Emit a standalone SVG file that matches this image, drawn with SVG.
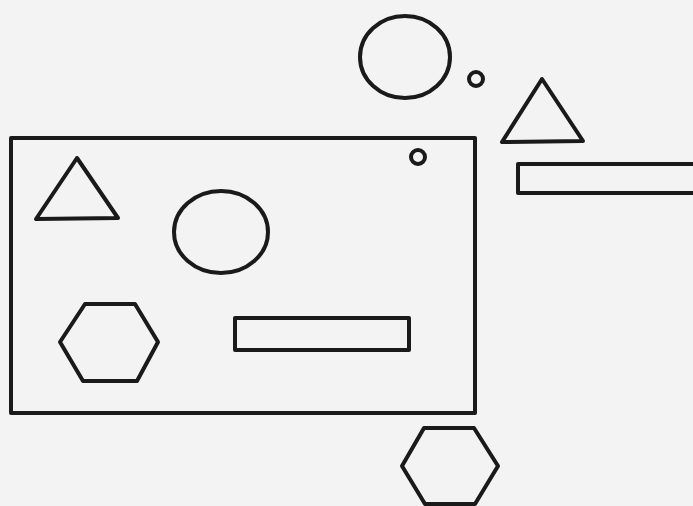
<svg xmlns="http://www.w3.org/2000/svg" width="693" height="506" viewBox="0 0 693 506">
<style>
.s{fill:none;stroke:#1a1a1a;stroke-width:4;stroke-linejoin:round}
</style>
<rect x="0" y="0" width="693" height="506" fill="#f3f3f3"/>
<g id="frame"><rect class="s" x="11" y="138" width="464" height="275"/></g>
<g id="tri-in"><polygon class="s" points="77,158 36,219 118,218"/></g>
<g id="circle-in"><ellipse class="s" cx="221" cy="232" rx="47" ry="41"/></g>
<g id="hex-in"><polygon class="s" points="85,304 135,304 158,342 137,381 83,381 60,342"/></g>
<g id="rect-in"><rect class="s" x="235" y="318" width="174" height="32"/></g>
<g id="dot-in"><circle class="s" cx="418" cy="157" r="7"/></g>
<g id="circle-out"><ellipse class="s" cx="405" cy="57" rx="45" ry="41"/></g>
<g id="dot-out"><circle class="s" cx="476" cy="79" r="7"/></g>
<g id="tri-out"><polygon class="s" points="542,79 502,142 583,141"/></g>
<g id="rect-out"><rect class="s" x="518" y="164" width="185" height="29"/></g>
<g id="hex-out"><polygon class="s" points="424,428 474,428 498,466 475,504 425,504 402,466"/></g>
</svg>
